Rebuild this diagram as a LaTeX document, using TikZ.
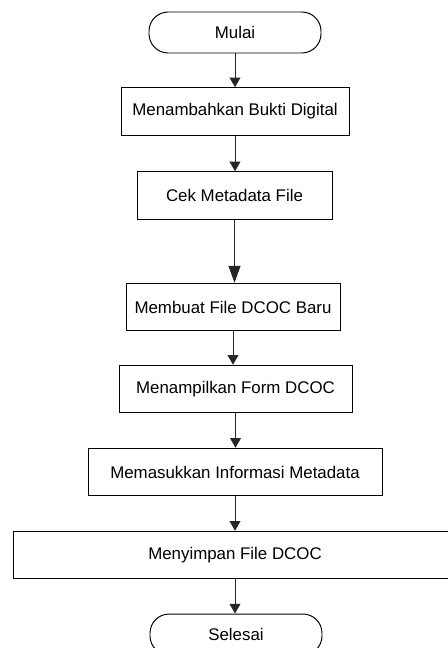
\documentclass[tikz,border=0pt]{standalone}
\usepackage{fontspec}
\setmainfont{Liberation Sans}
\usetikzlibrary{arrows.meta,positioning}

\begin{document}
\begin{tikzpicture}[
  term/.style={draw=black, line width=0.7pt, rectangle, rounded corners=0.48cm,
    minimum width=4.3cm, minimum height=1.025cm, font=\fontsize{12}{14}\selectfont},
  proc/.style={draw=black, line width=0.7pt, rectangle, minimum height=1.19cm,
    align=center, font=\fontsize{12}{14}\selectfont, inner sep=2pt},
  arr/.style={-{Triangle[length=0.24cm, width=0.27cm]}, line width=0.7pt, draw=black!85},
  bigarr/.style={-{Triangle[length=0.42cm, width=0.3cm]}, line width=0.7pt, draw=black!85},
]
\useasboundingbox (0,0) rectangle (11.175,-16.2);

%==================== ALUR UTAMA ====================
\node[term] (mulai) at (5.875,-0.8125) {Mulai};
\node[proc, minimum width=5.7cm]   (tambah)   at (5.875,-2.7875)  {Menambahkan Bukti Digital};
\node[proc, minimum width=4.875cm] (cek)      at (5.8625,-4.8875) {Cek Metadata File};
\node[proc, minimum width=5.35cm]  (buat)     at (5.825,-7.675)   {Membuat File DCOC Baru};
\node[proc, minimum width=5.825cm] (tampil)   at (5.8875,-9.725)  {Menampilkan Form DCOC};
\node[proc, minimum width=7.35cm]  (masuk)    at (5.875,-11.8)    {Memasukkan Informasi Metadata};
\node[proc, minimum width=11.1cm]  (simpan)   at (5.875,-13.875)  {Menyimpan File DCOC};
\node[term] (selesai) at (5.9,-15.8625) {Selesai};

%==================== PANAH ====================
\draw[arr]    (mulai.south)  -- (mulai.south |- tambah.north);
\draw[arr]    (tambah.south) -- (tambah.south |- cek.north);
\draw[bigarr] (cek.south)    -- (cek.south |- buat.north);
\draw[arr]    (buat.south)   -- (buat.south |- tampil.north);
\draw[arr]    (tampil.south) -- (tampil.south |- masuk.north);
\draw[arr]    (masuk.south)  -- (masuk.south |- simpan.north);
\draw[arr]    (simpan.south) -- (simpan.south |- selesai.north);

\end{tikzpicture}
\end{document}
